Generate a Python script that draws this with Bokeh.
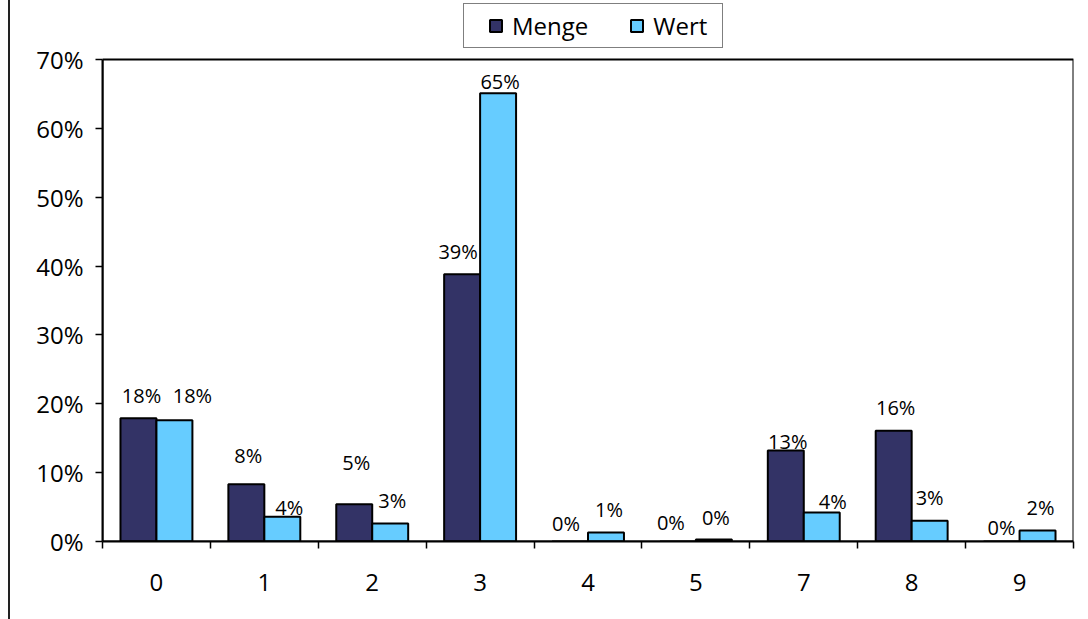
from bokeh.plotting import figure
from bokeh.models import (ColumnDataSource, FixedTicker, LinearAxis, NumeralTickFormatter,
                          Legend, LegendItem, Range1d, Div)
from bokeh.layouts import row
from bokeh.core.properties import value
from bokeh.embed import file_html
from bokeh.resources import INLINE

# Category labels and the two series (shares, as fractions)
categories = ["0", "1", "2", "3", "4", "5", "7", "8", "9"]
menge = [0.179, 0.083, 0.054, 0.388, 0.0, 0.0, 0.132, 0.161, 0.0]
wert = [0.176, 0.036, 0.026, 0.651, 0.013, 0.003, 0.042, 0.030, 0.016]
y_ticks = [0.0, 0.1, 0.2, 0.3, 0.4, 0.5, 0.6, 0.7]

# Label nudges in screen pixels (dx right, dy up from the bar top)
menge_dx = [3, 2, 2, -4, -4, -7, 2, 2, 0]
menge_dy = [23, 29, 42, 23, 18, 19, 9, 23, 14]
wert_dx = [18, 7, 2, 2, 3, 2, 11, 0, 3]
wert_dy = [25, 9, 23, 12, 23, 22, 11, 23, 23]

FONT = "Open Sans"
DARK = "#333366"
LIGHT = "#66CCFF"
Y_MAX = y_ticks[-1]
PLOT_H = 482          # height of the value area in pixels
FRAME_H = 541         # frame reaches up to the top edge of the canvas

n = len(categories)
bar_w = 1 / 3
idx = list(range(n))

p = figure(width=1078, height=619, output_backend="svg", toolbar_location=None,
           x_range=Range1d(0, n), y_range=Range1d(0, Y_MAX * FRAME_H / PLOT_H),
           min_border_left=92, min_border_right=15, min_border_top=0, min_border_bottom=78,
           x_axis_location=None, y_axis_location=None)
p.outline_line_color = None
p.xgrid.visible = False
p.ygrid.visible = False
p.background_fill_color = "white"
p.border_fill_color = "white"

src_m = ColumnDataSource(dict(x=[i + 0.5 - bar_w / 2 for i in idx], top=menge))
src_w = ColumnDataSource(dict(x=[i + 0.5 + bar_w / 2 for i in idx], top=wert))

r_m = p.vbar(x="x", top="top", width=bar_w, source=src_m,
             fill_color=DARK, line_color="black", line_width=2)
r_w = p.vbar(x="x", top="top", width=bar_w, source=src_w,
             fill_color=LIGHT, line_color="black", line_width=2)

# Box around the value area
p.quad(left=[0], right=[n], bottom=[0], top=[Y_MAX], fill_color=None,
       line_color="black", line_width=2)

# Value labels
def pct(v):
    return f"{round(v * 100):.0f}%"

lab = ColumnDataSource(dict(
    x=[i + 0.5 - bar_w / 2 for i in idx] + [i + 0.5 + bar_w / 2 for i in idx],
    y=menge + wert,
    text=[pct(v) for v in menge] + [pct(v) for v in wert],
    dx=menge_dx + wert_dx,
    dy=[-d for d in menge_dy] + [-d for d in wert_dy],
))
p.text(x="x", y="y", text="text", x_offset="dx", y_offset="dy", source=lab,
       text_align="center", text_baseline="middle",
       text_font=value(FONT), text_font_size=value("20px"), text_color="black")

# Y axis: percent ticks, only over the value area
yax = LinearAxis(ticker=FixedTicker(ticks=y_ticks), formatter=NumeralTickFormatter(format="0%"),
                 bounds=(0, Y_MAX))
yax.axis_line_color = "black"
yax.axis_line_width = 2
yax.major_tick_out = 7
yax.major_tick_in = 0
yax.major_tick_line_color = "black"
yax.major_tick_line_width = 1.5
yax.minor_tick_line_color = None
yax.major_label_standoff = 12
yax.major_label_text_font = FONT
yax.major_label_text_font_size = "24px"
yax.major_label_text_color = "black"
p.add_layout(yax, "left")

# X axis: labels at category centres, tick marks on category boundaries
xax = LinearAxis(ticker=FixedTicker(ticks=[i + 0.5 for i in idx], minor_ticks=list(range(n + 1))))
xax.major_label_overrides = {i + 0.5: c for i, c in zip(idx, categories)}
xax.axis_line_color = "black"
xax.axis_line_width = 2
xax.major_tick_line_color = None
xax.major_tick_out = 0
xax.major_tick_in = 0
xax.minor_tick_out = 7
xax.minor_tick_in = 0
xax.minor_tick_line_color = "black"
xax.minor_tick_line_width = 1.5
xax.major_label_standoff = 25
xax.major_label_text_font = FONT
xax.major_label_text_font_size = "24px"
xax.major_label_text_color = "black"
p.add_layout(xax, "below")

legend = Legend(items=[LegendItem(label="Menge", renderers=[r_m]),
                       LegendItem(label="Wert", renderers=[r_w])],
                orientation="horizontal", location=(361, 493))
legend.margin = 0
try:
    legend.padding = (24, 15, 5, 5)
except Exception:
    legend.padding = 6
legend.spacing = 41
legend.label_standoff = 9
legend.glyph_width = 15
legend.glyph_height = 15
legend.label_text_font = FONT
legend.label_text_font_size = "24px"
legend.label_text_color = "black"
legend.border_line_color = "black"
legend.border_line_width = 1.5
legend.background_fill_color = "white"
legend.background_fill_alpha = 1
p.add_layout(legend, "center")

edge = Div(width=2, height=619, margin=(0, 0, 0, 8), styles={"background-color": "#222"})
p.margin = 0
layout = row(edge, p)

open("out.html", "w").write(file_html(layout, INLINE))
